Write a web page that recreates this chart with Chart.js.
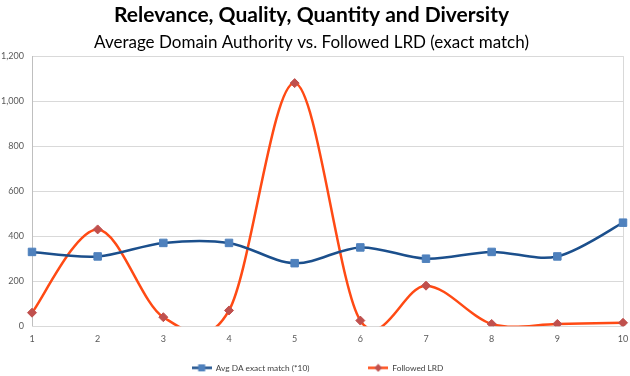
<!DOCTYPE html>
<html>
<head>
<meta charset="utf-8">
<script src="https://cdn.jsdelivr.net/npm/chart.js@4/dist/chart.umd.min.js"></script>
<style>
  html, body { margin: 0; padding: 0; background: #fff; }
  #wrap { width: 630px; height: 376px; position: relative; }
</style>
</head>
<body>
<div id="wrap"><canvas id="chart"></canvas></div>
<script>
"use strict";

// данні
const categories = ['1', '2', '3', '4', '5', '6', '7', '8', '9', '10'];
const avgDaValues = [330, 310, 370, 370, 280, 350, 300, 330, 310, 460];
const followedLrdValues = [60, 430, 40, 70, 1080, 25, 180, 10, 10, 15];
const yTicks = [0, 200, 400, 600, 800, 1000, 1200];

const FONT = 'Lato, "Open Sans", sans-serif';
const LEGEND_FONT_SIZE = 8.3;

// маркер для легенди: лінія + точка
function legendMarker(lineColor, fillColor, shape) {
    const c = document.createElement('canvas');
    c.width = 20;
    c.height = 9;
    const g = c.getContext('2d');
    if (!lineColor) return c;
    g.strokeStyle = lineColor;
    g.lineWidth = 2.5;
    g.beginPath();
    g.moveTo(0, 4.5);
    g.lineTo(20, 4.5);
    g.stroke();
    g.fillStyle = fillColor;
    g.beginPath();
    if (shape === 'rect') {
        g.rect(6.5, 1, 7, 7);
    } else {
        g.moveTo(10, 0.5);
        g.lineTo(14, 4.5);
        g.lineTo(10, 8.5);
        g.lineTo(6, 4.5);
        g.closePath();
    }
    g.fill();
    return c;
}

const blueMarker = legendMarker('#1B4F8C', '#4F81BD', 'rect');
const orangeMarker = legendMarker('#FF4A14', '#C0504D', 'diamond');
const emptyMarker = legendMarker(null);

// Згладжування як в Excel: контрольні точки = (P[i+1] - P[i-1]) / 6
const excelSmooth = {
    id: 'excelSmooth',
    beforeDatasetDraw: function(chart, args) {
        const meta = args.meta;
        const pts = meta.data;
        const n = pts.length;
        for (let i = 0; i < n; i++) {
            const prev = pts[Math.max(i - 1, 0)];
            const next = pts[Math.min(i + 1, n - 1)];
            const dx = (next.x - prev.x) / 6;
            const dy = (next.y - prev.y) / 6;
            pts[i].cp1x = pts[i].x - dx;
            pts[i].cp1y = pts[i].y - dy;
            pts[i].cp2x = pts[i].x + dx;
            pts[i].cp2y = pts[i].y + dy;
        }
        if (meta.dataset) meta.dataset._pointsUpdated = true;
    }
};

// трохи зсуваємо легенду вправо
const legendShift = {
    id: 'legendShift',
    afterLayout: function(chart) {
        if (chart.legend) chart.legend.left += 12;
    }
};

new Chart(document.getElementById('chart'), {
    type: 'line',
    data: {
        labels: categories,
        datasets: [
            {
                label: 'Avg DA exact match (*10)',
                data: avgDaValues,
                borderColor: '#1B4F8C',
                borderWidth: 2.5,
                backgroundColor: '#4F81BD',
                pointBackgroundColor: '#4F81BD',
                pointBorderColor: '#4F81BD',
                pointStyle: 'rect',
                pointRadius: 5.3,
                pointBorderWidth: 1,
                tension: 0.4,
                capBezierPoints: false,
                clip: { left: 8, right: 8, top: 8, bottom: 0 }
            },
            {
                label: 'Followed LRD',
                data: followedLrdValues,
                borderColor: '#FF4A14',
                borderWidth: 2.5,
                backgroundColor: '#C0504D',
                pointBackgroundColor: '#C0504D',
                pointBorderColor: '#C0504D',
                pointStyle: 'rectRot',
                pointRadius: 4.5,
                pointBorderWidth: 1,
                tension: 0.4,
                capBezierPoints: false,
                clip: { left: 8, right: 8, top: 8, bottom: 0 }
            }
        ]
    },
    options: {
        responsive: true,
        maintainAspectRatio: false,
        animation: false,
        layout: {
            padding: { left: 0, right: 7, top: 3, bottom: -6 }
        },
        scales: {
            y: {
                min: 0,
                max: 1200,
                afterBuildTicks: function(scale) {
                    scale.ticks = yTicks.map(v => ({ value: v }));
                },
                afterFit: function(scale) {
                    scale.width = 32;
                },
                ticks: {
                    color: '#595959',
                    font: { family: FONT, size: 9 },
                    padding: 8,
                    callback: v => v.toLocaleString('en-US')
                },
                grid: {
                    color: '#D9D9D9',
                    drawTicks: false
                },
                border: { color: '#BFBFBF' }
            },
            x: {
                afterFit: function(scale) {
                    scale.height = 34;
                    scale.paddingRight = 0;
                },
                ticks: {
                    color: '#595959',
                    font: { family: FONT, size: 9 },
                    padding: 7,
                    maxRotation: 0
                },
                grid: {
                    drawTicks: false,
                    color: ctx => ctx.index === categories.length - 1 ? '#D9D9D9' : 'rgba(0,0,0,0)'
                },
                border: { color: '#D9D9D9' }
            }
        },
        plugins: {
            title: {
                display: true,
                text: 'Relevance, Quality, Quantity and Diversity',
                color: '#000',
                font: { family: FONT, size: 21, weight: 'bold' },
                padding: { top: 0, bottom: 0 }
            },
            subtitle: {
                display: true,
                text: 'Average Domain Authority vs. Followed LRD (exact match)',
                color: '#000',
                font: { family: FONT, size: 17, weight: 'normal' },
                padding: { top: 4, bottom: 3.5 }
            },
            legend: {
                position: 'bottom',
                labels: {
                    color: '#404040',
                    font: { family: FONT, size: LEGEND_FONT_SIZE },
                    usePointStyle: true,
                    pointStyleWidth: 20,
                    boxHeight: 9,
                    padding: 3.5,
                    generateLabels: function(chart) {
                        const ds = chart.data.datasets;
                        const item = (text, style, i) => ({
                            text: text,
                            pointStyle: style,
                            fillStyle: 'transparent',
                            strokeStyle: 'transparent',
                            lineWidth: 0,
                            fontColor: '#404040',
                            datasetIndex: i,
                            hidden: false
                        });
                        // два порожні елементи як відступ між пунктами
                        return [
                            item(ds[0].label, blueMarker, 0),
                            item('', emptyMarker, 0),
                            item('', emptyMarker, 0),
                            item(ds[1].label, orangeMarker, 1)
                        ];
                    }
                }
            },
            tooltip: { enabled: false }
        }
    },
    plugins: [excelSmooth, legendShift]
});
</script>
</body>
</html>
